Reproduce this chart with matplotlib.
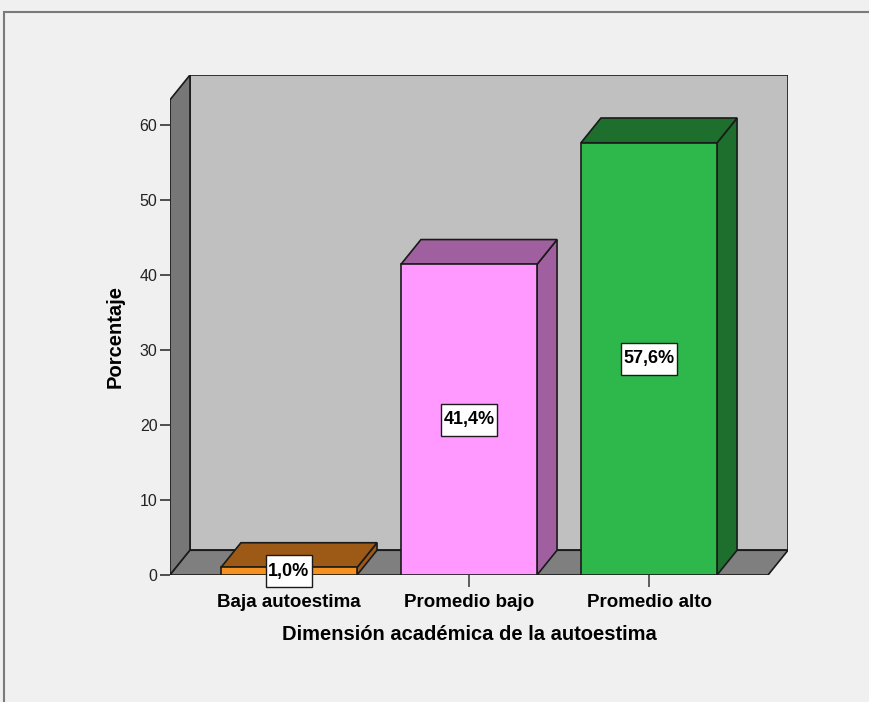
import matplotlib
matplotlib.use("Agg")
import matplotlib.pyplot as plt
from matplotlib.patches import Rectangle
from matplotlib.path import Path

categories = ["Baja autoestima", "Promedio bajo", "Promedio alto"]
values = [1.0, 41.4, 57.6]
labels = ["1,0%", "41,4%", "57,6%"]
y_ticks = [0, 10, 20, 30, 40, 50, 60]

front_colors = ["#F5921F", "#FF99FF", "#2EB84B"]
dark_colors = ["#9C5A16", "#A0609F", "#1E6E2E"]

plt.rcParams["font.family"] = ["Liberation Sans", "DejaVu Sans"]


def tall_box(x0, y0, width, height, mutation_size):
    # label box with more room above/below the text than at the sides
    px, py = 0.12 * mutation_size, 0.42 * mutation_size
    a, b = x0 - px, y0 - py
    c, d = x0 + width + px, y0 + height + py
    return Path([(a, b), (c, b), (c, d), (a, d), (a, b)], closed=True)


fig = plt.figure(figsize=(8.7, 7.02), dpi=100)
fig.patch.set_facecolor("#F0F0F0")
# frame of the output window (only top and left visible)
fig.patches.append(Rectangle((4 / 870, -0.2), 1.5, 1.2 - 12 / 702, transform=fig.transFigure,
                             fill=False, edgecolor="#7a7a7a", linewidth=1.5))

# axes = front plane of the 3D box
W, H = 870, 702
ax = fig.add_axes([170 / W, (H - 575) / H, 618 / W, 500 / H])
ax.set_facecolor("none")
for s in ax.spines.values():
    s.set_visible(False)

pos = list(range(len(categories)))
bw = 0.756
dx, dy = 0.111, 3.3
x0, x1 = -0.661, 2.661
ytop = 63.33
ax.set_xlim(x0, x1 + dx)
ax.set_ylim(0, ytop + dy)

ec = "#1a1a1a"
lw = 1.2
# walls and floor
ax.fill([x0 + dx, x1 + dx, x1 + dx, x0 + dx], [dy, dy, ytop + dy, ytop + dy],
        facecolor="#C0C0C0", edgecolor=ec, linewidth=lw, zorder=1)
ax.fill([x0, x0 + dx, x0 + dx, x0], [0, dy, ytop + dy, ytop],
        facecolor="#777777", edgecolor=ec, linewidth=lw, zorder=1)
ax.fill([x0, x1, x1 + dx, x0 + dx], [0, 0, dy, dy],
        facecolor="#7F7F7F", edgecolor=ec, linewidth=lw, zorder=1)

# bars
for p, v, fc, dc in zip(pos, values, front_colors, dark_colors):
    l, r = p - bw / 2, p + bw / 2
    ax.fill([r, r + dx, r + dx, r], [0, dy, v + dy, v],
            facecolor=dc, edgecolor=ec, linewidth=lw, zorder=2)
    ax.fill([l, r, r + dx, l + dx], [v, v, v + dy, v + dy],
            facecolor=dc, edgecolor=ec, linewidth=lw, zorder=2)
ax.bar(pos, values, width=bw, color=front_colors, edgecolor=ec, linewidth=lw, zorder=3)

for p, v, t in zip(pos, values, labels):
    ax.text(p, v / 2, t, ha="center", va="center", fontsize=13, fontweight="bold",
            family=["DejaVu Sans Condensed", "Liberation Sans Narrow", "Liberation Sans"], zorder=5,
            bbox=dict(boxstyle=tall_box, facecolor="white", edgecolor=ec, linewidth=1))

ax.set_yticks(y_ticks)
ax.set_yticklabels([str(t) for t in y_ticks])
ax.set_xticks(pos)
ax.set_xticklabels(categories, fontsize=13.5, fontweight="bold")
ax.tick_params(axis="y", length=7, width=1.2, color="#333333", labelsize=11.5, labelcolor="#222222", pad=2)
ax.tick_params(axis="x", length=8.6, width=1.2, color="#444444", pad=5)

ax.set_xlabel("Dimensión académica de la autoestima", fontsize=14.5, fontweight="bold")
ax.xaxis.set_label_coords(0.4838, -0.1)
ax.set_ylabel("Porcentaje", fontsize=14.5, fontweight="bold")
ax.yaxis.set_label_coords(-0.073, 0.478)

fig.savefig("out.png", dpi=100, facecolor=fig.get_facecolor())
